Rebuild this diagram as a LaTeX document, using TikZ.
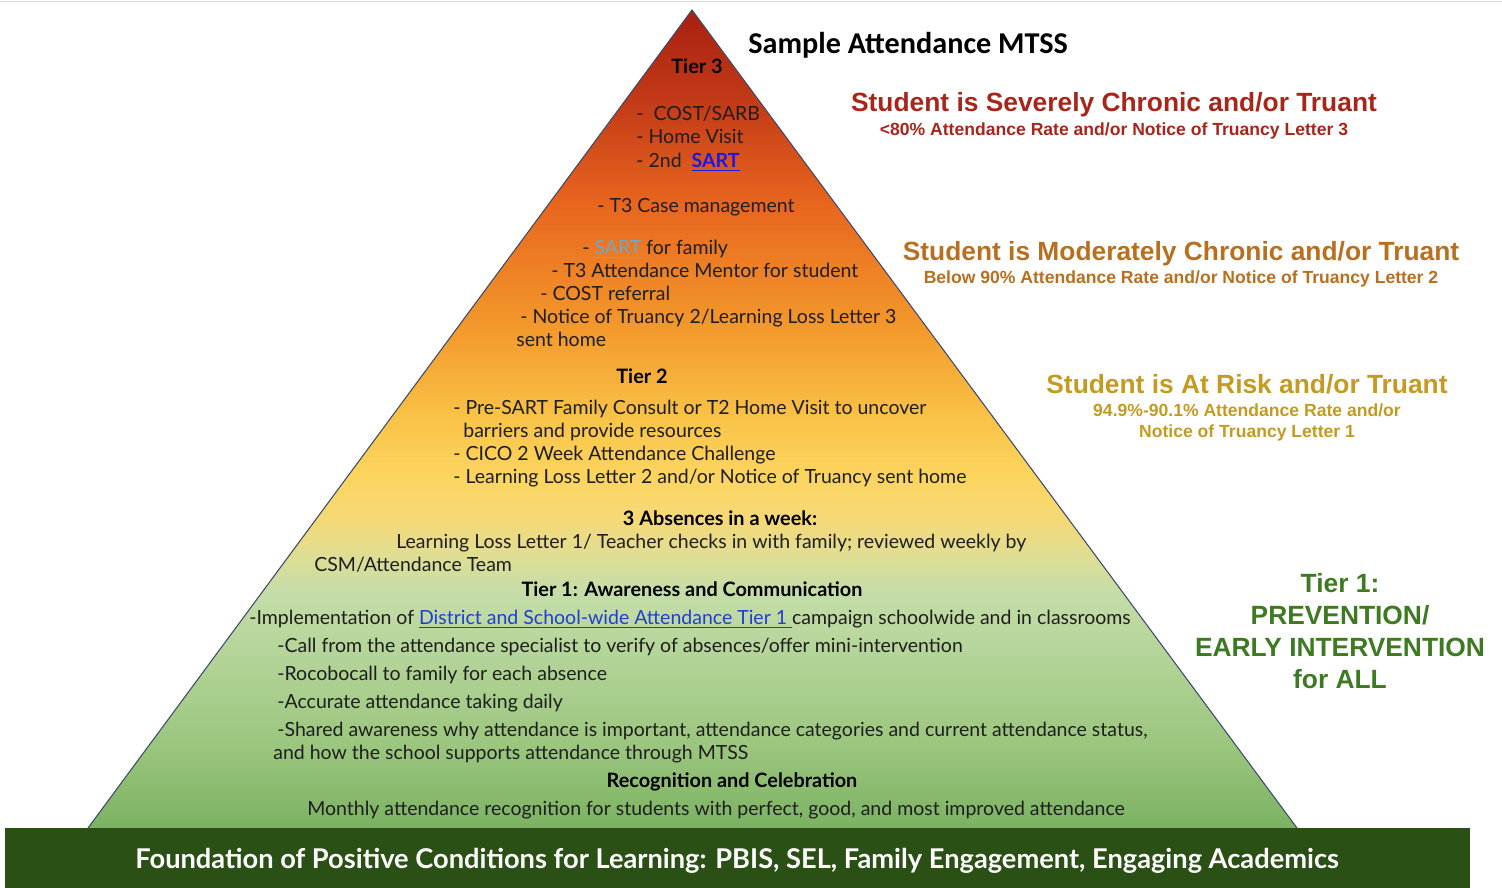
\documentclass[tikz,border=0pt]{standalone}
\usepackage{fontspec}
\setmainfont{Lato}
\newfontfamily\arialfont{Liberation Sans}
\newfontfamily\calibrifont{Carlito}
\usetikzlibrary{positioning,shadings}

\definecolor{pgA}{HTML}{7BB262}
\definecolor{pgB}{HTML}{9AC57D}
\definecolor{pgC}{HTML}{B5D59A}
\definecolor{pgD}{HTML}{C5DDA8}
\definecolor{pgE}{HTML}{DCDE96}
\definecolor{pgF}{HTML}{F5D978}
\definecolor{pgG}{HTML}{FCD560}
\definecolor{pgH}{HTML}{F9C448}
\definecolor{pgI}{HTML}{F39A2C}
\definecolor{pgJ}{HTML}{E8661E}
\definecolor{pgK}{HTML}{C23A17}
\definecolor{pgL}{HTML}{A8200F}
\definecolor{edgeblue}{HTML}{3B4A6B}
\definecolor{basegreen}{HTML}{2B5016}
\definecolor{bodytext}{HTML}{1E1E1E}
\definecolor{sevred}{HTML}{A8251A}
\definecolor{modorange}{HTML}{B86F1E}
\definecolor{riskgold}{HTML}{C49A20}
\definecolor{tiergreen}{HTML}{3E7A22}
\definecolor{sartblue}{HTML}{1A1AE0}
\definecolor{sartpale}{HTML}{6FA8C8}
\definecolor{linkblue}{HTML}{1F3FCF}

% pyramid bounding box is mapped onto 25bp..75bp
\pgfdeclareverticalshading{pyramidfill}{100bp}{%
	color(0bp)=(pgA); color(25bp)=(pgA); color(29.8bp)=(pgB); color(35.9bp)=(pgC);
	color(39.5bp)=(pgD); color(41.4bp)=(pgE); color(43.8bp)=(pgF); color(46.5bp)=(pgG);
	color(49.9bp)=(pgH); color(55.4bp)=(pgI); color(63.1bp)=(pgJ); color(69.5bp)=(pgK);
	color(75bp)=(pgL); color(100bp)=(pgL)}

\newcommand{\weblink}[2]{{\color{#1}\underline{#2}}}

\begin{document}
\begin{tikzpicture}[x=0.02cm, y=-0.02cm,
	body/.style={anchor=mid west, inner sep=0pt, yshift=-1.7pt, text=bodytext, font=\fontsize{11.1}{13}\selectfont},
	head/.style={anchor=mid, inner sep=0pt, yshift=-1.7pt, text=black, font=\bfseries\fontsize{11.3}{13}\selectfont},
	rtitle/.style={anchor=mid, inner sep=0pt, yshift=-2.8pt, font=\arialfont\bfseries\fontsize{15}{17}\selectfont},
	rsub/.style={inner sep=0pt, font=\arialfont\bfseries\fontsize{10}{12}\selectfont}
	]
	\useasboundingbox (0,0) rectangle (1502,888);
	\draw[gray!30] (0,1) -- (1502,1);
	
	\coordinate (apex) at (692,10);
	\coordinate (bl) at (88,828);
	\coordinate (br) at (1297,828);
	\shade[shading=pyramidfill] (bl) -- (apex) -- (br) -- cycle;
	\draw[edgeblue, line width=0.6pt] (bl) -- (apex) -- (br);
	\fill[basegreen] (5,828) rectangle (1470,888);
	
	\node[anchor=mid west, inner sep=0pt, yshift=-3.4pt, font=\calibrifont\bfseries\fontsize{17.2}{20}\selectfont] (ttl) at (748,43) {Sample Attendance MTSS};
	
	% right hand labels
	\node[rtitle, text=sevred] (sev) at (1114,102) {Student is Severely Chronic and/or Truant};
	\node[rsub, text=sevred, below=3pt of sev] (sevsub) {<80\% Attendance Rate and/or Notice of Truancy Letter 3};
	\node[rtitle, text=modorange] (mod) at (1181,251) {Student is Moderately Chronic and/or Truant};
	\node[rsub, text=modorange, below=2.4pt of mod] (modsub) {Below 90\% Attendance Rate and/or Notice of Truancy Letter 2};
	\node[rtitle, text=riskgold] (risk) at (1247,384) {Student is At Risk and/or Truant};
	\node[rsub, text=riskgold, below=5.3pt of risk] (risksub) {94.9\%-90.1\% Attendance Rate and/or};
	\node[rsub, text=riskgold, below=4.1pt of risksub] (risksubb) {Notice of Truancy Letter 1};
	\node[inner sep=0pt, align=center, yshift=-1.1pt, text=tiergreen, font=\arialfont\bfseries\fontsize{15}{18.1}\selectfont] (prev) at (1340,629) {Tier 1:\\PREVENTION/\\EARLY INTERVENTION\\for ALL};
	
	% tier 3
	\node[head] (tthree) at (697,66) {Tier 3};
	\node[body] (cost) at (636,113) {-\ \ COST/SARB};
	\node[body] (home) at (636,136) {- Home Visit};
	\node[body] (sartb) at (636,160) {- 2nd\ \ \weblink{sartblue}{\bfseries SART}};
	\node[body] (case) at (597,205) {- T3 Case management};
	\node[body] (sartf) at (582,247) {- \weblink{sartpale}{SART} for family};
	\node[body] (mentor) at (551,270) {- T3 Attendance Mentor for student};
	\node[body] (costr) at (540,293) {- COST referral};
	\node[body] (notice) at (520,316) {- Notice of Truancy 2/Learning Loss Letter 3};
	\node[body] (sent) at (516,339) {sent home};
	
	% tier 2
	\node[head] (ttwo) at (642,376) {Tier 2};
	\node[body] (presart) at (453,407) {- Pre-SART Family Consult or T2 Home Visit to uncover};
	\node[body] (barr) at (463,430) {barriers and provide resources};
	\node[body] (cico) at (453,453) {- CICO 2 Week Attendance Challenge};
	\node[body] (llltwo) at (453,476) {- Learning Loss Letter 2 and/or Notice of Truancy sent home};
	
	\node[head] (abs) at (720,518) {3 Absences in a week:};
	\node[body] (lllone) at (396,541) {Learning Loss Letter 1/ Teacher checks in with family; reviewed weekly by};
	\node[body] (csm) at (314,564) {CSM/Attendance Team};
	
	% tier 1
	\node[head] (tone) at (692,589) {Tier 1: Awareness and Communication};
	\node[body] (impl) at (249,617) {-Implementation of \weblink{linkblue}{District and School-wide Attendance Tier 1\ }campaign schoolwide and in classrooms};
	\node[body] (call) at (277,645) {-Call from the attendance specialist to verify of absences/offer mini-intervention};
	\node[body] (robo) at (277,673) {-Rocobocall to family for each absence};
	\node[body] (acc) at (277,701) {-Accurate attendance taking daily};
	\node[body] (shared) at (277,729) {-Shared awareness why attendance is important, attendance categories and current attendance status,};
	\node[body] (how) at (273,752) {and how the school supports attendance through MTSS};
	\node[head] (recog) at (732,780) {Recognition and Celebration};
	\node[body, anchor=mid] (month) at (716,808) {Monthly attendance recognition for students with perfect, good, and most improved attendance};
	
	\node[anchor=mid, inner sep=0pt, yshift=-2.3pt, text=white, font=\bfseries\fontsize{15.5}{18}\selectfont] (found) at (737,860) {Foundation of Positive Conditions for Learning: PBIS, SEL, Family Engagement, Engaging Academics};
\end{tikzpicture}
\end{document}
